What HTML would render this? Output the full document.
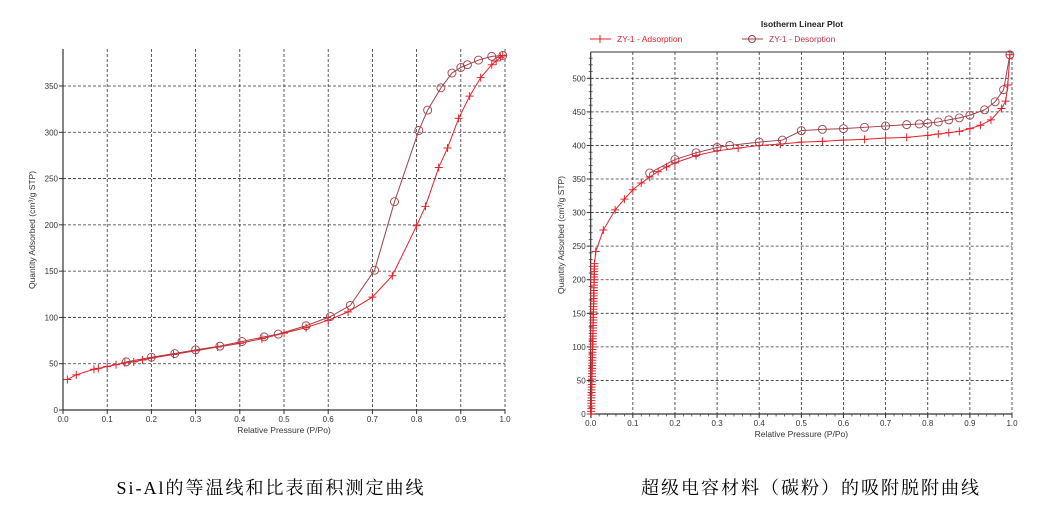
<!DOCTYPE html>
<html><head><meta charset="utf-8"><style>
html,body{margin:0;padding:0;background:#fff;width:1050px;height:524px;overflow:hidden}
svg text{font-family:"Liberation Sans",Arial,sans-serif}
.cap{font-family:"Liberation Serif","Noto Serif CJK SC",serif;font-size:18px;fill:#000;letter-spacing:2px}
</style></head><body>
<svg id="s" width="1050" height="524" xmlns="http://www.w3.org/2000/svg">
<text x="271" y="494" text-anchor="middle" class="cap">Si-Al的等温线和比表面积测定曲线</text>
<text x="811" y="494" text-anchor="middle" class="cap">超级电容材料（碳粉）的吸附脱附曲线</text>
<text x="802" y="27" text-anchor="middle" font-size="8.5" font-weight="bold" fill="#222">Isotherm Linear Plot</text>
<line x1="590" y1="39" x2="611" y2="39" stroke="#e8202a"/><line x1="600" y1="35" x2="600" y2="43" stroke="#e8202a"/>
<text x="617" y="42" font-size="8.5" fill="#e8202a">ZY-1 - Adsorption</text>
<line x1="742" y1="39" x2="763" y2="39" stroke="#a04048"/><circle cx="752" cy="39" r="3.5" fill="none" stroke="#a04048"/>
<text x="769" y="42" font-size="8.5" fill="#c03040">ZY-1 - Desorption</text>
</svg>
<script>
const S=document.getElementById('s');let h='';
function chart(c){
 const X=v=>c.x0+(c.x1-c.x0)*v, Y=v=>c.y0-(c.y0-c.y5)*v/c.yv;
 for(let i=1;i<=10;i++){h+=`<line x1="${X(i/10)}" y1="${c.top}" x2="${X(i/10)}" y2="${c.y0}" stroke="#333" stroke-width="0.8" stroke-dasharray="3,2"/>`;}
 for(let v=50;Y(v)>=c.top-1;v+=50){h+=`<line x1="${c.x0}" y1="${Y(v)}" x2="${c.x1}" y2="${Y(v)}" stroke="#333" stroke-width="0.8" stroke-dasharray="3,2"/>`;}
 for(let v=0;Y(v)>=c.top-1;v+=50){h+=`<line x1="${c.x0-4}" y1="${Y(v)}" x2="${c.x0}" y2="${Y(v)}" stroke="#333"/><text x="${c.x0-5}" y="${Y(v)+3}" font-size="8" text-anchor="end" fill="#333">${v}</text>`;}
 if(c.minor){for(let v=10;Y(v)>=c.top;v+=10){h+=`<line x1="${c.x0-2}" y1="${Y(v)}" x2="${c.x0+2}" y2="${Y(v)}" stroke="#333" stroke-width="0.7"/>`;}
  for(let i=1;i<50;i++){h+=`<line x1="${X(i/50)}" y1="${c.y0}" x2="${X(i/50)}" y2="${c.y0+2.5}" stroke="#333" stroke-width="0.7"/>`;}}
 for(let i=0;i<=10;i++){h+=`<line x1="${X(i/10)}" y1="${c.y0}" x2="${X(i/10)}" y2="${c.y0+4}" stroke="#333"/><text x="${X(i/10)}" y="${c.y0+12}" font-size="8" text-anchor="middle" fill="#333">${(i/10).toFixed(1)}</text>`;}
 h+=`<line x1="${c.x0}" y1="${c.top}" x2="${c.x0}" y2="${c.y0}" stroke="#333" stroke-width="1.2"/><line x1="${c.x0}" y1="${c.y0}" x2="${c.x1}" y2="${c.y0}" stroke="#333" stroke-width="1.2"/>`;
 if(c.frame)h+=`<line x1="${c.x0}" y1="${c.top}" x2="${c.x1}" y2="${c.top}" stroke="#333"/>`;
 h+=`<text x="${(c.x0+c.x1)/2}" y="${c.y0+23}" font-size="8.5" text-anchor="middle" fill="#333">Relative Pressure (P/Po)</text>`;
 h+=`<text transform="translate(${c.tx},${c.ty}) rotate(-90)" font-size="8.5" text-anchor="middle" fill="#333">Quantity Adsorbed (cm³/g STP)</text>`;
 const line=(d,col)=>{h+=`<polyline fill="none" stroke="${col}" stroke-width="1" points="${d.map(p=>X(p[0])+','+Y(p[1])).join(' ')}"/>`;};
 line(c.ads,'#e8202a');line(c.des,'#a04048');
 c.ads.forEach(p=>{const x=X(p[0]),y=Y(p[1]);h+=`<path d="M${x-4} ${y}H${x+4}M${x} ${y-4}V${y+4}" stroke="#e8202a" stroke-width="1"/>`;});
 c.des.forEach(p=>{h+=`<circle cx="${X(p[0])}" cy="${Y(p[1])}" r="4" fill="none" stroke="#a04048" stroke-width="0.9"/>`;});
}
chart({x0:63,x1:505,y0:410,y5:86,yv:350,top:49,tx:35,ty:230,
ads:[[0.01,33],[0.03,38],[0.07,44],[0.08,45],[0.1,47],[0.12,49],[0.14,51],[0.16,52],[0.18,54],[0.2,56],[0.25,60],[0.3,64],[0.35,68],[0.4,72],[0.45,77],[0.5,83],[0.55,89],[0.6,97],[0.645,106],[0.7,122],[0.745,145],[0.8,199],[0.82,220],[0.85,262],[0.87,283],[0.895,315],[0.92,339],[0.945,359],[0.97,373],[0.98,377],[0.99,381],[0.995,383]],
des:[[0.995,383],[0.97,382],[0.94,378],[0.915,373],[0.9,370],[0.88,364],[0.855,348],[0.825,324],[0.805,302],[0.75,225],[0.705,151],[0.65,113],[0.605,101],[0.55,91],[0.487,82],[0.455,79],[0.405,74],[0.355,69],[0.3,65],[0.253,61],[0.2,57],[0.143,52]]});
let lowA=[];for(let v=0;v<=225;v+=4)lowA.push([0.001+0.008*v/225,v]);
chart({x0:590.7,x1:1012,y0:414,y5:78.3,yv:500,top:52,tx:564,ty:235,minor:1,frame:1,
ads:lowA.concat([[0.012,242],[0.03,274],[0.058,304],[0.08,320],[0.1,334],[0.12,344],[0.14,353],[0.16,361],[0.18,368],[0.2,374],[0.25,385],[0.3,392],[0.35,396],[0.4,400],[0.45,402],[0.5,405],[0.55,406],[0.6,408],[0.65,409],[0.7,411],[0.75,412],[0.8,415],[0.825,417],[0.85,419],[0.875,421],[0.9,425],[0.925,430],[0.95,438],[0.975,455],[0.985,466],[0.99,490],[0.995,535]]),
des:[[0.995,535],[0.98,483],[0.96,465],[0.935,453],[0.9,445],[0.875,441],[0.85,438],[0.825,435],[0.8,433],[0.78,432],[0.75,431],[0.7,429],[0.65,427],[0.6,425],[0.55,424],[0.5,422],[0.455,408],[0.4,405],[0.33,400],[0.3,397],[0.25,389],[0.2,379],[0.14,359]]});
S.insertAdjacentHTML('beforeend',h);
</script>
</body></html>
